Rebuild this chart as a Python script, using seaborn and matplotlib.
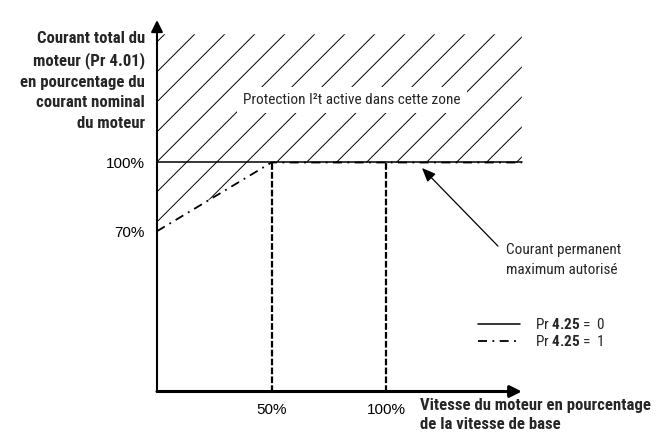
import numpy as np
import matplotlib
matplotlib.use('Agg')
import matplotlib.pyplot as plt
import seaborn as sns
from matplotlib import font_manager
from matplotlib.patches import Polygon

# Chart values (percent)
speed_pr0 = [0, 159.3]
current_pr0 = [100, 100]
speed_pr1 = [0, 50, 159.3]
current_pr1 = [70, 100, 100]
speed_marks = [50, 100]
x_ticks = [50, 100]
x_labels = ['50%', '100%']
y_ticks = [70, 100]
y_labels = ['70%', '100%']
hatch_top = 156

# pick a narrow font if there is one
names = {f.name for f in font_manager.fontManager.ttflist}
narrow = [n for n in ('Liberation Sans Narrow', 'Roboto Condensed', 'Open Sans Condensed')
          if n in names]
if narrow:
    fam, fs, bfs = narrow[0], 11, 12.1
else:
    fam, fs, bfs = 'Liberation Sans', 10, 10

sns.set_style('white')
plt.rcParams['font.family'] = [fam, 'DejaVu Sans']
plt.rcParams['mathtext.fontset'] = 'custom'
plt.rcParams['mathtext.rm'] = fam
plt.rcParams['mathtext.bf'] = fam + ':bold'

fig = plt.figure(figsize=(6.6, 4.44), dpi=100)
scale = 2.29  # px per percent
ax = fig.add_axes([157 / 660, 52.5 / 444, 165 * scale / 660, 165 * scale / 444])
ax.set_xlim(0, 165)
ax.set_ylim(0, 165)
for s in ax.spines.values():
    s.set_visible(False)

# hatched zone, clipped to the area above the Pr 4.25 = 1 curve
verts = list(zip(speed_pr1, current_pr1)) + [(speed_pr1[-1], hatch_top), (0, hatch_top)]
clip = Polygon(verts, closed=True, fc='none', ec='none', transform=ax.transData)
ax.add_patch(clip)
for k in 87.2 + 13.1 * np.arange(-12, 13):
    ln, = ax.plot([-50, 250], [-50 + k, 250 + k], color='black', lw=0.7, zorder=1)
    ln.set_clip_path(clip)

ax.vlines(speed_marks, 0, 100, colors='black', lw=1.6, linestyles=(0, (3, 1)), zorder=2)

sns.lineplot(x=speed_pr0, y=current_pr0, ax=ax, color='black', lw=1.1, sort=False,
             label=r'Pr $\mathbf{4.25}$ =  0', zorder=3)
sns.lineplot(x=speed_pr1, y=current_pr1, ax=ax, color='black', lw=1.3, sort=False,
             linestyle=(0, (5, 3, 1, 3)), label=r'Pr $\mathbf{4.25}$ =  1', zorder=3)

# axes drawn as arrows
ax.annotate('', xy=(159.3, 0), xytext=(0, 0), annotation_clip=False,
            arrowprops=dict(arrowstyle='-|>,head_length=0.5,head_width=0.25', color='black',
                            lw=2.2, shrinkA=0, shrinkB=0, mutation_scale=14))
ax.annotate('', xy=(0, 162.2), xytext=(0, 0), annotation_clip=False,
            arrowprops=dict(arrowstyle='-|>,head_length=0.5,head_width=0.25', color='black',
                            lw=1.5, shrinkA=0, shrinkB=0, mutation_scale=14))

ax.set_xticks(x_ticks, x_labels)
ax.set_yticks(y_ticks, y_labels)
ax.tick_params(axis='x', length=0, pad=8.5, labelsize=11, colors='black',
               labelfontfamily='Liberation Sans')
ax.tick_params(axis='y', length=0, pad=8.6, labelsize=11, colors='black',
               labelfontfamily='Liberation Sans')
ax.set_xlabel('')
ax.set_ylabel('')

ax.text(37.55, 127.3, 'Protection I²t active dans cette zone', fontsize=fs, va='center',
        ha='left', zorder=5, bbox=dict(fc='white', ec='none', boxstyle='square,pad=0.4'))

ax.annotate('', xy=(115.7, 97.6), xytext=(148.9, 63.5), annotation_clip=False,
            arrowprops=dict(arrowstyle='-|>,head_length=0.6,head_width=0.25', color='black',
                            lw=0.9, shrinkA=0, shrinkB=0, mutation_scale=14))
ax.text(152.4, 57.4, 'Courant permanent\nmaximum autorisé', ha='left', va='center',
        fontsize=fs, linespacing=1.58)

fig.text(145 / 660, 1 - 81 / 444,
         'Courant total du\nmoteur (Pr 4.01)\nen pourcentage du\ncourant nominal\ndu moteur',
         ha='right', va='center', multialignment='right', fontweight='bold', fontsize=bfs,
         linespacing=1.46)
fig.text(420 / 660, 1 - 415 / 444, 'Vitesse du moteur en pourcentage\nde la vitesse de base',
         ha='left', va='center', fontweight='bold', fontsize=bfs, linespacing=1.3)

ax.legend(loc='upper left', bbox_to_anchor=(478 / 660, 1 - 317 / 444),
          bbox_transform=fig.transFigure, frameon=False, borderpad=0, borderaxespad=0,
          handlelength=2.75, handletextpad=0.98, labelspacing=0.15, fontsize=fs)

fig.savefig('out.png', dpi=100)
